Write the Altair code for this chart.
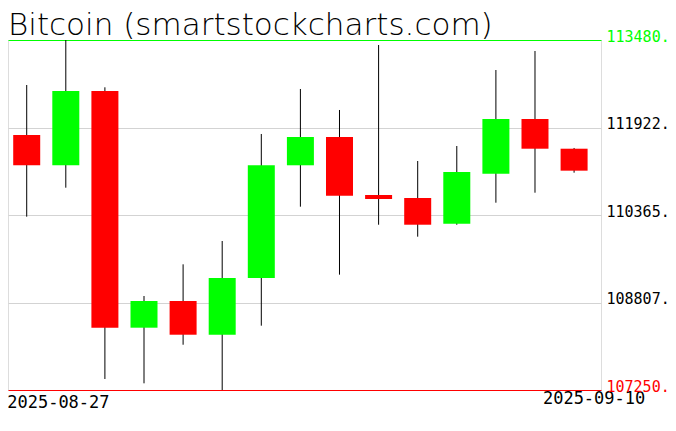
import altair as alt
import pandas as pd

dates = ["2025-08-27", "2025-08-28", "2025-08-29", "2025-08-30", "2025-08-31",
         "2025-09-01", "2025-09-02", "2025-09-03", "2025-09-04", "2025-09-05",
         "2025-09-06", "2025-09-07", "2025-09-08", "2025-09-09", "2025-09-10"]
opens = [111789, 111250, 112572, 108359, 108834, 108234, 109244, 111250, 111753,
         110721, 110668, 110210, 111100, 112074, 111545]
highs = [112679, 113480, 112638, 108923, 109487, 109902, 111807, 112608, 112234,
         113391, 111326, 111593, 112946, 113284, 111558]
lows = [110335, 110851, 107446, 107369, 108056, 107250, 108395, 110513, 109303,
        110192, 109979, 110192, 110584, 110762, 111118]
closes = [111250, 112572, 108359, 108834, 108234, 109244, 111250, 111753, 110709,
          110650, 110192, 111130, 112074, 111545, 111154]

y_ticks = [107250.0, 108807.5, 110365.0, 111922.5, 113480.0]
title_text = "Bitcoin (smartstockcharts.com)"

df = pd.DataFrame({"date": dates, "open": opens, "high": highs,
                   "low": lows, "close": closes})

ymin, ymax = min(y_ticks), max(y_ticks)

x_scale = alt.Scale(
    type="utc", padding=0,
    domain=[alt.DateTime(year=2025, month=8, date=26, hours=12, minutes=31, utc=True),
            alt.DateTime(year=2025, month=9, date=10, hours=16, minutes=31, utc=True)],
)
y_scale = alt.Scale(domain=[ymin, ymax], zero=False, nice=False, padding=0)

x_axis = alt.Axis(
    values=[alt.DateTime(year=2025, month=8, date=27, utc=True),
            alt.DateTime(year=2025, month=9, date=10, utc=True)],
    format="%Y-%m-%d",
    title=None, domain=False, ticks=False, grid=False,
    labelFont="DejaVu Sans Mono", labelFontSize=17, labelColor="black",
    labelFlush=False, labelOverlap=False, labelBaseline="top",
    labelAlign={"condition": {"test": "datum.index == 0", "value": "left"}, "value": "right"},
    labelOffset={"condition": {"test": "datum.index == 0", "value": -20}, "value": 70.7},
    labelPadding={"condition": {"test": "datum.index == 0", "value": 4}, "value": 0},
)

y_axis = alt.Axis(
    orient="right", values=y_ticks, format=".1f", title=None,
    domain=False, ticks=False, grid=True,
    gridColor={"condition": [{"test": "datum.value == %s" % ymax, "value": "#00ff00"},
                             {"test": "datum.value == %s" % ymin, "value": "#ff0000"}],
               "value": "#d3d3d3"},
    labelColor={"condition": [{"test": "datum.value == %s" % ymax, "value": "#00ff00"},
                              {"test": "datum.value == %s" % ymin, "value": "#ff0000"}],
                "value": "black"},
    labelFont="DejaVu Sans Mono", labelFontSize=15,
    labelBaseline="alphabetic", labelOffset=1, labelPadding=5,
    labelOverlap=False, labelBound=False,
)

base = alt.Chart(df)

wicks = base.mark_rule(color="black", strokeWidth=1).encode(
    x=alt.X("date:T", scale=x_scale, axis=x_axis),
    y=alt.Y("low:Q", scale=y_scale, axis=y_axis),
    y2="high:Q",
)

bodies = base.mark_bar(size=27).encode(
    x=alt.X("date:T", scale=x_scale),
    y=alt.Y("open:Q", scale=y_scale),
    y2="close:Q",
    color=alt.condition("datum.close > datum.open", alt.value("#00ff00"), alt.value("#ff0000")),
)

chart = alt.layer(wicks, bodies).properties(
    width=593, height=350,
    title=alt.TitleParams(text=title_text, anchor="start", frame="group",
                          font='"DejaVu Sans ExtraLight", "DejaVu Sans"', fontSize=31,
                          fontWeight=200, color="black", baseline="alphabetic",
                          offset=-8, dy=29),
    autosize=alt.AutoSizeParams(type="none"),
    padding={"left": 0, "top": 32, "right": 67, "bottom": 25},
).configure_view(stroke=None).configure(background="white")

chart.save("out.html", embed_options={"renderer": "svg", "actions": False})
